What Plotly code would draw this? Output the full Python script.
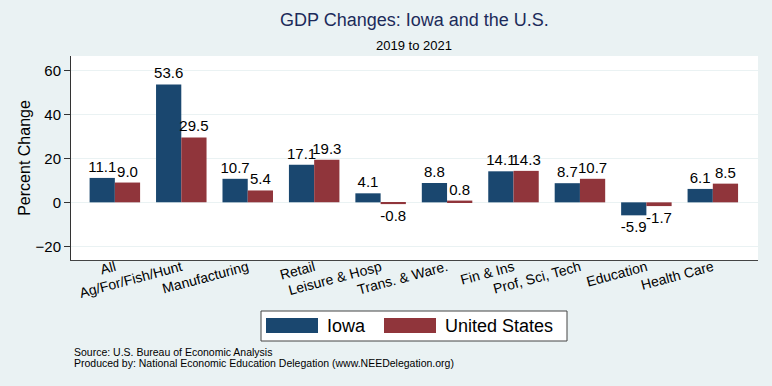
import plotly.graph_objects as go

categories = ["All", "Ag/For/Fish/Hunt", "Manufacturing", "Retail", "Leisure & Hosp",
              "Trans. & Ware.", "Fin & Ins", "Prof, Sci, Tech", "Education", "Health Care"]
iowa = [11.1, 53.6, 10.7, 17.1, 4.1, 8.8, 14.1, 8.7, -5.9, 6.1]
united_states = [9.0, 29.5, 5.4, 19.3, -0.8, 0.8, 14.3, 10.7, -1.7, 8.5]
y_ticks = [-20, 0, 20, 40, 60]

W, H = 772, 386
L, R, T, B = 71, 14, 56, 126
PW, PH = W - L - R, H - T - B

def px(x):
    return (x - L) / PW

def py(y):
    return (H - B - y) / PH

IOWA_C = "#1a476f"
US_C = "#90353b"
BG = "#eaf2f3"
FONT = "Liberation Sans, Arial, sans-serif"

fig = go.Figure()
fig.add_trace(go.Bar(x=categories, y=iowa, name="Iowa", marker_color=IOWA_C,
                     marker_line_width=0,
                     text=[f"{v:.1f}" for v in iowa], textposition="outside",
                     textfont=dict(size=15, color="black"), cliponaxis=False,
                     constraintext="none"))
fig.add_trace(go.Bar(x=categories, y=united_states, name="United States", marker_color=US_C,
                     marker_line_width=0,
                     text=[f"{v:.1f}" for v in united_states], textposition="outside",
                     textfont=dict(size=15, color="black"), cliponaxis=False,
                     constraintext="none"))

fig.update_layout(
    width=W, height=H,
    margin=dict(l=L, r=R, t=T, b=B, autoexpand=False),
    paper_bgcolor=BG, plot_bgcolor="white",
    font=dict(family=FONT, color="black"),
    barmode="group", bargap=0.24, bargroupgap=0,
    showlegend=False,
    xaxis=dict(range=[-0.66, 9.68], tickangle=-15, tickfont=dict(size=14),
               showline=True, linecolor="#444", linewidth=1, ticks="",
               ticklabelstandoff=-7,
               showgrid=False, fixedrange=True, automargin=False),
    yaxis=dict(range=[-26.2, 66.5], tickvals=y_ticks, tickfont=dict(size=15),
               ticks="outside", ticklen=6, tickcolor="#333",
               showline=True, linecolor="#333", linewidth=1,
               showgrid=True, gridcolor=BG, gridwidth=1,
               zeroline=True, zerolinecolor=BG, zerolinewidth=1, automargin=False,
               fixedrange=True,
               title=dict(text="Percent Change", font=dict(size=16), standoff=0)),
)

annotations = [
    dict(text="GDP Changes: Iowa and the U.S.", x=px(414), y=py(20), xref="paper", yref="paper",
         xanchor="center", yanchor="middle", showarrow=False,
         font=dict(size=18, color="#1c2b5a")),
    dict(text="2019 to 2021", x=px(414), y=py(46), xref="paper", yref="paper",
         xanchor="center", yanchor="middle", showarrow=False,
         font=dict(size=13, color="black")),
    dict(text="Iowa", x=px(325), y=py(326), xref="paper", yref="paper",
         xanchor="left", yanchor="middle", showarrow=False, font=dict(size=18)),
    dict(text="United States", x=px(443), y=py(326), xref="paper", yref="paper",
         xanchor="left", yanchor="middle", showarrow=False, font=dict(size=18)),
    dict(text="Source: U.S. Bureau of Economic Analysis",
         x=px(72), y=py(352), xref="paper", yref="paper", xanchor="left", yanchor="middle",
         align="left", showarrow=False, font=dict(size=10.5)),
    dict(text="Produced by: National Economic Education Delegation (www.NEEDelegation.org)",
         x=px(72), y=py(363), xref="paper", yref="paper", xanchor="left", yanchor="middle",
         align="left", showarrow=False, font=dict(size=10.5)),
]
fig.update_layout(annotations=annotations)

shapes = [
    dict(type="rect", xref="paper", yref="paper", x0=px(261), x1=px(567), y0=py(311), y1=py(341),
         line=dict(color="#444", width=1), fillcolor="white", layer="below"),
    dict(type="rect", xref="paper", yref="paper", x0=px(266), x1=px(318), y0=py(318), y1=py(333),
         line=dict(width=0), fillcolor=IOWA_C),
    dict(type="rect", xref="paper", yref="paper", x0=px(384), x1=px(436), y0=py(318), y1=py(333),
         line=dict(width=0), fillcolor=US_C),
]
fig.update_layout(shapes=shapes)

fig.write_html("out.html", config={"displayModeBar": False},
               post_script="document.body.style.margin='0';document.body.style.background='#eaf2f3';")
